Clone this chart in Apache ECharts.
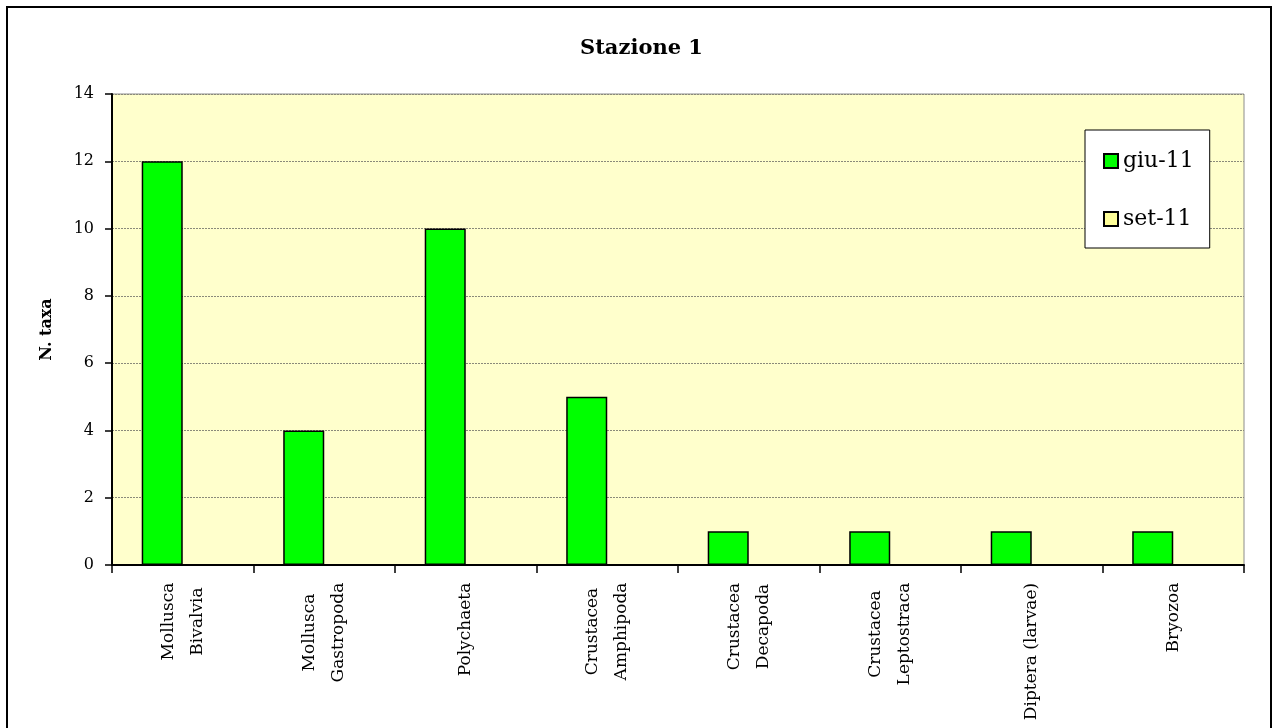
<!DOCTYPE html>
<html>
<head>
<meta charset="utf-8">
<script src="https://cdn.jsdelivr.net/npm/echarts@6/dist/echarts.min.js"></script>
<style>
  html, body { margin: 0; padding: 0; background: #ffffff; }
  #chart { width: 1273px; height: 728px; }
</style>
</head>
<body>
<div id="chart"></div>
<script>
// Taxa groups (line breaks as in the axis labels)
const categories = [
  'Mollusca\nBivalvia',
  'Mollusca\nGastropoda',
  'Polychaeta',
  'Crustacea\nAmphipoda',
  'Crustacea\nDecapoda',
  'Crustacea\nLeptostraca',
  'Diptera (larvae)',
  'Bryozoa'
];
// Number of taxa per sampling campaign
const giu11 = [12, 4, 10, 5, 1, 1, 1, 1];
const set11 = [0, 0, 0, 0, 0, 0, 0, 0];
const seriesNames = ['giu-11', 'set-11'];
const yTicks = { min: 0, max: 14, step: 2 };

const SERIF = '"DejaVu Serif", "Liberation Serif", serif';
const LABEL_SIZE = 17;

// Each wrapped category label gets its own rich style whose width is the
// widest line, so the lines are centred on one another.
const measureCtx = document.createElement('canvas').getContext('2d');
measureCtx.font = LABEL_SIZE + 'px ' + SERIF;
const labelRich = {};
categories.forEach((c, i) => {
  const w = Math.max(...c.split('\n').map(l => measureCtx.measureText(l).width));
  labelRich['c' + i] = {
    width: Math.ceil(w) + 1,
    align: 'center',
    fontFamily: SERIF,
    fontSize: LABEL_SIZE,
    lineHeight: 29,
    color: '#000'
  };
});

const chart = echarts.init(document.getElementById('chart'), null, { renderer: 'canvas' });

chart.setOption({
  backgroundColor: '#ffffff',
  animation: false,
  title: {
    text: 'Stazione 1',
    left: 575,
    top: 33,
    textStyle: { fontFamily: SERIF, fontSize: 21, fontWeight: 'bold', color: '#000' }
  },
  legend: {
    orient: 'vertical',
    left: 1085,
    top: 130,
    padding: [20, 16, 18, 18],
    itemGap: 36,
    itemWidth: 14,
    itemHeight: 14,
    itemTextGap: 10,
    backgroundColor: '#ffffff',
    borderColor: '#000',
    borderWidth: 1,
    icon: 'rect',
    textStyle: { fontFamily: SERIF, fontSize: 22, color: '#000' },
    data: seriesNames
  },
  graphic: [{
    type: 'rect',
    shape: { x: 7, y: 7, width: 1264, height: 740 },
    style: { fill: 'none', stroke: '#000', lineWidth: 2 },
    silent: true,
    z: 100
  }],
  grid: {
    left: 112, right: 29, top: 94, bottom: 163,
    show: true,
    backgroundColor: '#FFFFCC',
    borderColor: '#8c8c8c',
    borderWidth: 1
  },
  xAxis: {
    type: 'category',
    data: categories,
    boundaryGap: true,
    axisLine: { show: true, lineStyle: { color: '#000', width: 2 } },
    axisTick: { show: true, alignWithLabel: false, length: 8, lineStyle: { color: '#000', width: 1.5 } },
    axisLabel: {
      interval: 0,
      rotate: 90,
      margin: 17,
      fontFamily: SERIF,
      fontSize: LABEL_SIZE,
      color: '#000',
      lineHeight: 29,
      formatter: (v, i) => v.split('\n').map(l => '{c' + i + '|' + l + '}').join('\n'),
      rich: labelRich
    }
  },
  yAxis: {
    type: 'value',
    min: yTicks.min,
    max: yTicks.max,
    interval: yTicks.step,
    name: 'N. taxa',
    nameLocation: 'middle',
    nameRotate: 90,
    nameGap: 57,
    nameTextStyle: { fontFamily: SERIF, fontSize: 16, fontWeight: 'bold', color: '#000' },
    axisLine: { show: true, lineStyle: { color: '#000', width: 2 } },
    axisTick: { show: true, length: 7, lineStyle: { color: '#000', width: 1.5 } },
    axisLabel: { margin: 18, fontFamily: SERIF, fontSize: 16, color: '#000' },
    splitLine: { show: true, lineStyle: { color: '#8a8a7a', width: 1, type: [2, 1] } }
  },
  series: [
    {
      name: seriesNames[0],
      type: 'bar',
      data: giu11,
      barGap: '0%',
      barCategoryGap: '42%',
      itemStyle: { color: '#00FF00', borderColor: '#000', borderWidth: 1.5 }
    },
    {
      name: seriesNames[1],
      type: 'bar',
      data: set11,
      barGap: '0%',
      barCategoryGap: '42%',
      itemStyle: { color: '#FFFF99', borderColor: '#000', borderWidth: 1 }
    }
  ]
});
</script>
</body>
</html>
